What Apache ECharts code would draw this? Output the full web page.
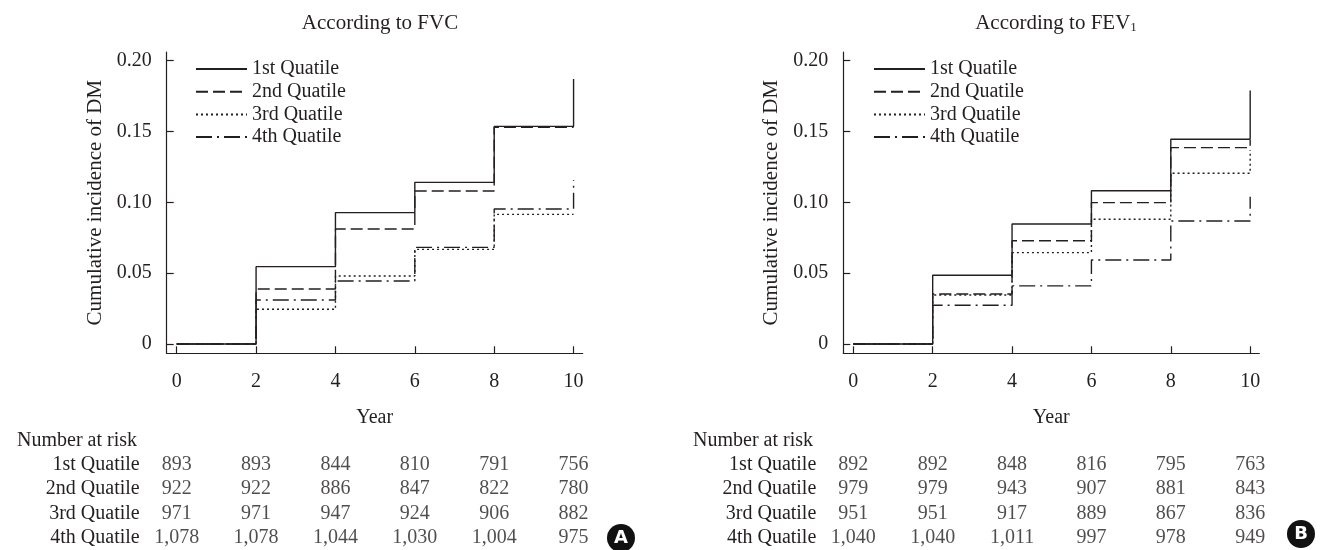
<!DOCTYPE html>
<html>
<head>
<meta charset="utf-8">
<script src="https://cdn.jsdelivr.net/npm/echarts@6/dist/echarts.min.js"></script>
<style>
html,body{margin:0;padding:0;background:#fff;}
#chart{width:1322px;height:550px;}
</style>
</head>
<body>
<div id="chart"></div>
<script>
// ---------- data ----------
const years = [0, 2, 4, 6, 8, 10];
const groups = ['1st Quatile', '2nd Quatile', '3rd Quatile', '4th Quatile'];
const yTicks = [0, 0.05, 0.10, 0.15, 0.20];

// Cumulative incidence, According to FVC (value at each year; last = value reached at year 10)
const fvcQ1 = [0, 0.0546, 0.0927, 0.1141, 0.1536, 0.187];
const fvcQ2 = [0, 0.0388, 0.0812, 0.1080, 0.1530, 0.1530];
const fvcQ3 = [0, 0.0245, 0.0480, 0.0668, 0.0915, 0.0915];
const fvcQ4 = [0, 0.0310, 0.0445, 0.0682, 0.0953, 0.1158];

// Cumulative incidence, According to FEV1
const fevQ1 = [0, 0.0485, 0.0847, 0.1082, 0.1445, 0.179];
const fevQ2 = [0, 0.0353, 0.0729, 0.0998, 0.1386, 0.1440];
const fevQ3 = [0, 0.0346, 0.0645, 0.0880, 0.1205, 0.1370];
const fevQ4 = [0, 0.0273, 0.0410, 0.0593, 0.0868, 0.1040];

// Number at risk
const fvcRiskQ1 = [893, 893, 844, 810, 791, 756];
const fvcRiskQ2 = [922, 922, 886, 847, 822, 780];
const fvcRiskQ3 = [971, 971, 947, 924, 906, 882];
const fvcRiskQ4 = [1078, 1078, 1044, 1030, 1004, 975];

const fevRiskQ1 = [892, 892, 848, 816, 795, 763];
const fevRiskQ2 = [979, 979, 943, 907, 881, 843];
const fevRiskQ3 = [951, 951, 917, 889, 867, 836];
const fevRiskQ4 = [1040, 1040, 1011, 997, 978, 949];

// ---------- build ----------
const FONT = 'Liberation Serif';
const INK = '#231f20';
const lineTypes = ['solid', [12, 5], [2, 3], [16, 5, 2, 5]];

const panels = [
  { curves: [fvcQ1, fvcQ2, fvcQ3, fvcQ4], risk: [fvcRiskQ1, fvcRiskQ2, fvcRiskQ3, fvcRiskQ4], left: 166.7 },
  { curves: [fevQ1, fevQ2, fevQ3, fevQ4], risk: [fevRiskQ1, fevRiskQ2, fevRiskQ3, fevRiskQ4], left: 843.3 }
];

const grid = [], xAxis = [], yAxis = [], series = [];
panels.forEach((p, pi) => {
  grid.push({ left: p.left, top: 52, width: 416, height: 301.3, containLabel: false });
  grid.push({ left: p.left, top: 452.3, width: 416, height: 101.3, containLabel: false });
  const gPlot = pi * 2, gTab = pi * 2 + 1;
  xAxis.push({
    gridIndex: gPlot, type: 'value', min: -0.252, max: 10.23,
    name: 'Year', nameLocation: 'middle', nameGap: 54,
    nameTextStyle: { fontFamily: FONT, fontSize: 20, color: INK },
    axisLine: { show: true, onZero: false, lineStyle: { color: INK, width: 1.2 } },
    axisTick: { show: true, inside: true, length: 7, customValues: years, lineStyle: { color: INK, width: 1.2 } },
    axisLabel: { customValues: years, margin: 18, fontFamily: FONT, fontSize: 20, color: INK },
    splitLine: { show: false }
  });
  xAxis.push({
    gridIndex: gTab, type: 'value', min: -0.252, max: 10.23, show: false
  });
  yAxis.push({
    gridIndex: gPlot, type: 'value', min: -0.00657, max: 0.2061,
    name: 'Cumulative incidence of DM', nameLocation: 'middle', nameRotate: 90, nameGap: 61,
    nameTextStyle: { fontFamily: FONT, fontSize: 21, color: INK },
    axisLine: { show: true, onZero: false, lineStyle: { color: INK, width: 1.2 } },
    axisTick: { show: true, inside: true, length: 7, customValues: yTicks, lineStyle: { color: INK, width: 1.2 } },
    axisLabel: { customValues: yTicks, margin: 15, fontFamily: FONT, fontSize: 20, color: INK,
      formatter: v => (v === 0 ? '0' : v.toFixed(2)) },
    splitLine: { show: false }
  });
  yAxis.push({
    gridIndex: gTab, type: 'category', data: groups, inverse: true,
    axisLine: { show: false }, axisTick: { show: false },
    axisLabel: { interval: 0, margin: 27, fontFamily: FONT, fontSize: 20, color: INK, align: 'right' }
  });
  p.curves.forEach((c, ci) => {
    series.push({
      name: groups[ci], type: 'line', step: 'end',
      xAxisIndex: gPlot, yAxisIndex: gPlot,
      data: years.map((y, i) => [y, c[i]]),
      symbol: 'none', showSymbol: false, silent: true,
      lineStyle: { color: INK, width: 1.4, type: lineTypes[ci] },
      itemStyle: { color: INK },
      z: 10 - ci
    });
  });
  const tdata = [];
  p.risk.forEach((row, ri) => row.forEach((v, i) => tdata.push([years[i], ri, v])));
  series.push({
    type: 'scatter', xAxisIndex: gTab, yAxisIndex: gTab,
    data: tdata, symbol: 'circle', symbolSize: 2, itemStyle: { color: 'rgba(0,0,0,0)' }, silent: true,
    label: { show: true, position: 'inside', fontFamily: FONT, fontSize: 20, color: INK,
      formatter: q => q.value[2].toLocaleString('en-US') },
    labelLayout: { hideOverlap: false }
  });
});

const legendCommon = {
  orient: 'vertical', top: 54, itemWidth: 51, itemHeight: 10, itemGap: 2.7,
  data: groups, selectedMode: false,
  itemStyle: { opacity: 0 },
  textStyle: { fontFamily: FONT, fontSize: 20, color: INK, lineHeight: 20 }
};

const option = {
  animation: false,
  backgroundColor: '#fff',
  title: [
    { text: 'According to FVC', left: 375, top: 8, textAlign: 'center',
      textStyle: { fontFamily: FONT, fontSize: 21, fontWeight: 'normal', color: INK } },
    { text: 'According to FEV{sub|1}', left: 1051, top: 8, textAlign: 'center',
      textStyle: { fontFamily: FONT, fontSize: 21, fontWeight: 'normal', color: INK,
        rich: { sub: { fontFamily: FONT, fontSize: 13, color: INK, verticalAlign: 'bottom', padding: [8, 0, 0, 0] } } } }
  ],
  legend: [
    Object.assign({ left: 190 }, legendCommon),
    Object.assign({ left: 868 }, legendCommon)
  ],
  grid, xAxis, yAxis, series,
  graphic: [
    { type: 'text', left: 17, top: 431, style: { text: 'Number at risk', fontFamily: FONT, fontSize: 20, fill: INK } },
    { type: 'text', left: 693, top: 431, style: { text: 'Number at risk', fontFamily: FONT, fontSize: 20, fill: INK } },
    { type: 'circle', shape: { cx: 621, cy: 538, r: 14 }, style: { fill: '#111' } },
    { type: 'text', x: 621, y: 538, style: { text: 'A', fontFamily: 'DejaVu Sans', fontWeight: 'bold', fontSize: 18, fill: '#fff', align: 'center', verticalAlign: 'middle' } },
    { type: 'circle', shape: { cx: 1301, cy: 534, r: 14 }, style: { fill: '#111' } },
    { type: 'text', x: 1301, y: 534, style: { text: 'B', fontFamily: 'DejaVu Sans', fontWeight: 'bold', fontSize: 18, fill: '#fff', align: 'center', verticalAlign: 'middle' } }
  ]
};

const chart = echarts.init(document.getElementById('chart'), null, { renderer: 'canvas' });
chart.setOption(option);
</script>
</body>
</html>
